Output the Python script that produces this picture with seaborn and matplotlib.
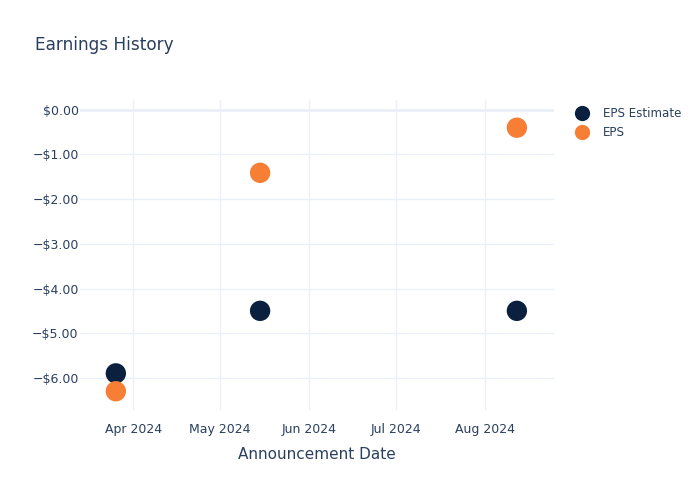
import matplotlib
matplotlib.use("Agg")
import matplotlib.pyplot as plt
import matplotlib.dates as mdates
import matplotlib.ticker as mticker
import seaborn as sns
import pandas as pd

dates = ["2024-03-26", "2024-05-15", "2024-08-12"]
eps_estimate = [-5.90, -4.50, -4.50]
eps_actual = [-6.30, -1.41, -0.40]
series_names = ["EPS Estimate", "EPS"]
colors = ["#0b1f3f", "#f77f35"]

df = pd.DataFrame({
    "date": pd.to_datetime(dates * 2),
    "value": eps_estimate + eps_actual,
    "series": [series_names[0]] * 3 + [series_names[1]] * 3,
})

sns.set_theme(style="white")
plt.rcParams["font.family"] = ["DejaVu Sans"]
text_color = "#2a3f5f"
grid_color = "#ebf0f8"

fig = plt.figure(figsize=(7, 5), dpi=100)
ax = fig.add_axes([0.1143, 0.18, 0.677, 0.62])

sns.scatterplot(data=df, x="date", y="value", hue="series", hue_order=series_names,
                palette=colors, s=215, edgecolor="none", ax=ax, zorder=3, legend=True)

ax.set_xlim(pd.Timestamp("2024-03-13 14:00"), pd.Timestamp("2024-08-24 20:00"))
ax.set_ylim(-6.72, 0.22)
ax.xaxis.set_major_locator(mdates.MonthLocator())
ax.xaxis.set_major_formatter(mdates.DateFormatter("%b %Y"))
ax.yaxis.set_major_locator(mticker.MultipleLocator(1))
ax.yaxis.set_major_formatter(mticker.FuncFormatter(
    lambda v, p: ("\u2212$%.2f" % abs(v)) if v < -1e-9 else "$%.2f" % abs(v)))

ax.grid(True, color=grid_color, linewidth=1, zorder=0)
ax.axhline(0, color=grid_color, linewidth=2, zorder=1)
for s in ax.spines.values():
    s.set_visible(False)
ax.tick_params(axis="both", length=0, labelsize=9, colors=text_color)
ax.tick_params(axis="x", pad=9)
ax.tick_params(axis="y", pad=1)

ax.set_xlabel("Announcement Date", fontsize=11, color=text_color, labelpad=8)
ax.set_ylabel("")
fig.text(0.05, 0.91, "Earnings History", fontsize=12.2, color=text_color, ha="left", va="center")

leg = ax.legend(loc="upper left", bbox_to_anchor=(1.02, 1.0), frameon=False,
                fontsize=8.6, labelcolor=text_color, handletextpad=0.7,
                markerscale=0.75, borderaxespad=0.2, labelspacing=0.5)

fig.savefig("out.png", dpi=100)
